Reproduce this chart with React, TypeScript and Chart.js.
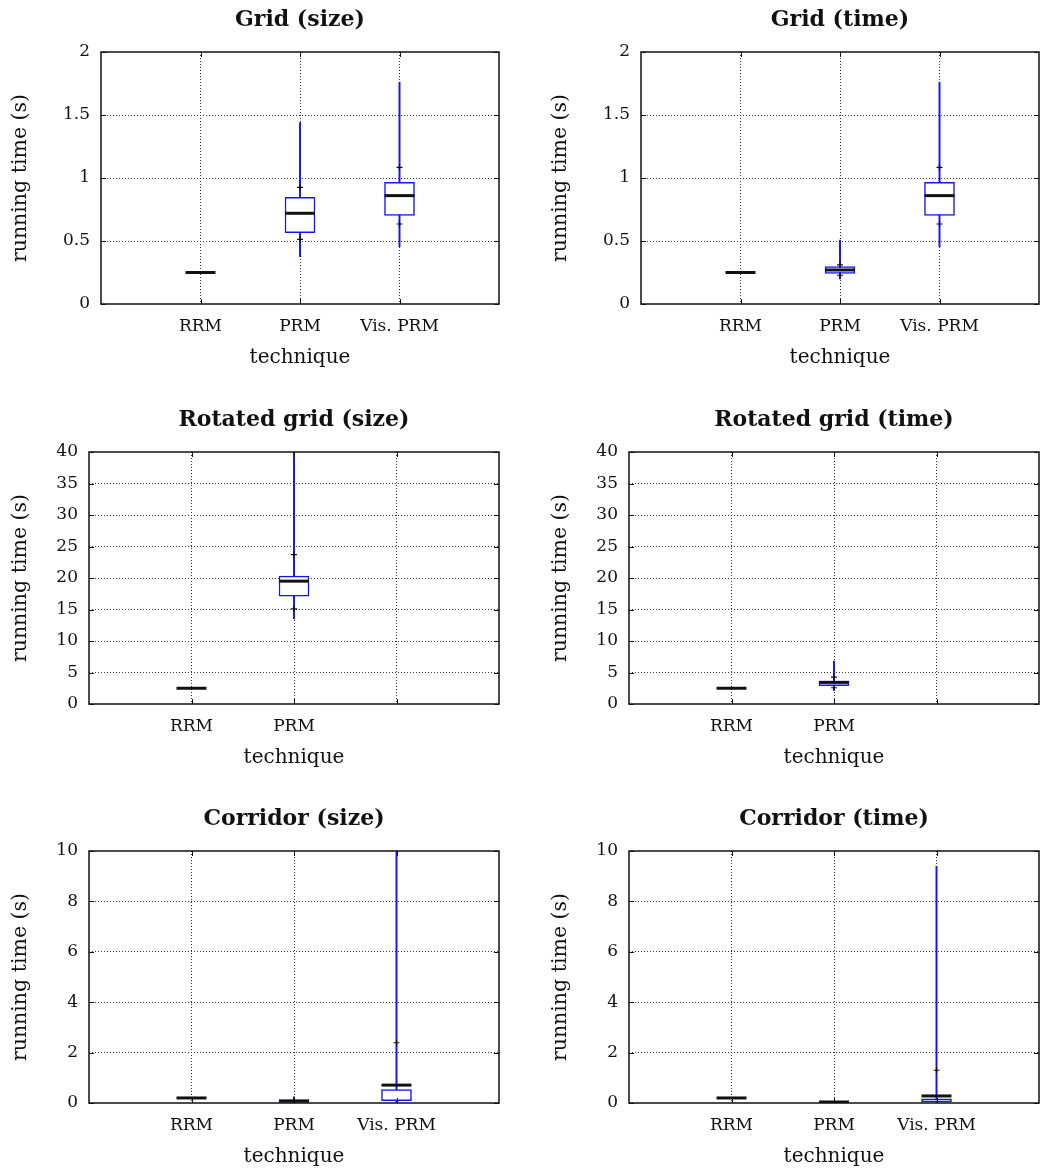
import React, { useEffect, useRef } from "react";
import { Chart, registerables } from "chart.js";

Chart.register(...registerables);

const FONT_FAMILY = "'DejaVu Serif', 'Liberation Serif', serif";
const BLUE = "rgb(20,20,255)";
const INK = "#111111";
const GRID_INK = "#333333";

// ---------- categories & tick labels ----------
const techniquesThree = ["RRM", "PRM", "Vis. PRM"];
const techniquesTwo = ["RRM", "PRM", ""];
const xTickValues = [0, 1, 2, 3, 4];
const gridYTicks = [0, 0.5, 1, 1.5, 2];
const rotatedYTicks = [0, 5, 10, 15, 20, 25, 30, 35, 40];
const corridorYTicks = [0, 2, 4, 6, 8, 10];

// ---------- Grid (size) ----------
const gridSizeWhiskerLow = [null, 0.376, 0.455];
const gridSizeWhiskerHigh = [null, 1.44, 1.76];
const gridSizeQ1 = [null, 0.566, 0.704];
const gridSizeQ3 = [null, 0.847, 0.966];
const gridSizeMedian = [0.25, 0.72, 0.86];
const gridSizeMarkLow = [null, 0.513, 0.635];
const gridSizeMarkHigh = [null, 0.926, 1.085];

// ---------- Grid (time) ----------
const gridTimeWhiskerLow = [null, 0.2, 0.455];
const gridTimeWhiskerHigh = [null, 0.508, 1.76];
const gridTimeQ1 = [null, 0.243, 0.704];
const gridTimeQ3 = [null, 0.296, 0.966];
const gridTimeMedian = [0.25, 0.27, 0.86];
const gridTimeMarkLow = [null, 0.228, 0.635];
const gridTimeMarkHigh = [null, 0.31, 1.085];

// ---------- Rotated grid (size) ----------
const rotSizeWhiskerLow = [null, 13.5, null];
const rotSizeWhiskerHigh = [null, 40, null];
const rotSizeQ1 = [null, 17.1, null];
const rotSizeQ3 = [null, 20.3, null];
const rotSizeMedian = [2.5, 19.5, null];
const rotSizeMarkLow = [null, 15.1, null];
const rotSizeMarkHigh = [null, 23.7, null];

// ---------- Rotated grid (time) ----------
const rotTimeWhiskerLow = [null, 2.15, null];
const rotTimeWhiskerHigh = [null, 6.8, null];
const rotTimeQ1 = [null, 2.9, null];
const rotTimeQ3 = [null, 3.64, null];
const rotTimeMedian = [2.5, 3.43, null];
const rotTimeMarkLow = [null, 2.58, null];
const rotTimeMarkHigh = [null, 4.27, null];

// ---------- Corridor (size) ----------
const corSizeWhiskerLow = [null, 0.02, 0.02];
const corSizeWhiskerHigh = [null, 0.24, 10];
const corSizeQ1 = [null, 0.04, 0.095];
const corSizeQ3 = [null, 0.13, 0.53];
const corSizeMedian = [0.2, 0.08, 0.71];
const corSizeMarkLow = [null, null, null];
const corSizeMarkHigh = [null, 0.1, 2.39];

// ---------- Corridor (time) ----------
const corTimeWhiskerLow = [null, null, 0.03];
const corTimeWhiskerHigh = [null, null, 9.39];
const corTimeQ1 = [null, null, 0.05];
const corTimeQ3 = [null, null, 0.17];
const corTimeMedian = [0.2, 0.04, 0.28];
const corTimeMarkLow = [null, null, null];
const corTimeMarkHigh = [null, null, 1.3];

type Num = number | null;
type PanelData = {
  title: string;
  labels: string[];
  yTicks: number[];
  wLo: Num[];
  wHi: Num[];
  q1: Num[];
  q3: Num[];
  med: Num[];
  mLo: Num[];
  mHi: Num[];
};
type PanelLayout = {
  left: number;
  top: number;
  width: number;
  height: number;
  padLeft: number;
  padRight: number;
  yWidth: number;
};

const panels: { data: PanelData; layout: PanelLayout }[] = [
  {
    data: { title: "Grid (size)", labels: techniquesThree, yTicks: gridYTicks, wLo: gridSizeWhiskerLow, wHi: gridSizeWhiskerHigh, q1: gridSizeQ1, q3: gridSizeQ3, med: gridSizeMedian, mLo: gridSizeMarkLow, mHi: gridSizeMarkHigh },
    layout: { left: 0, top: 0, width: 520, height: 370, padLeft: 0, padRight: 21, yWidth: 101 },
  },
  {
    data: { title: "Grid (time)", labels: techniquesThree, yTicks: gridYTicks, wLo: gridTimeWhiskerLow, wHi: gridTimeWhiskerHigh, q1: gridTimeQ1, q3: gridTimeQ3, med: gridTimeMedian, mLo: gridTimeMarkLow, mHi: gridTimeMarkHigh },
    layout: { left: 520, top: 0, width: 521, height: 370, padLeft: 20, padRight: 2, yWidth: 101 },
  },
  {
    data: { title: "Rotated grid (size)", labels: techniquesTwo, yTicks: rotatedYTicks, wLo: rotSizeWhiskerLow, wHi: rotSizeWhiskerHigh, q1: rotSizeQ1, q3: rotSizeQ3, med: rotSizeMedian, mLo: rotSizeMarkLow, mHi: rotSizeMarkHigh },
    layout: { left: 0, top: 400, width: 520, height: 370, padLeft: 0, padRight: 21, yWidth: 89 },
  },
  {
    data: { title: "Rotated grid (time)", labels: techniquesTwo, yTicks: rotatedYTicks, wLo: rotTimeWhiskerLow, wHi: rotTimeWhiskerHigh, q1: rotTimeQ1, q3: rotTimeQ3, med: rotTimeMedian, mLo: rotTimeMarkLow, mHi: rotTimeMarkHigh },
    layout: { left: 520, top: 400, width: 521, height: 370, padLeft: 20, padRight: 2, yWidth: 89 },
  },
  {
    data: { title: "Corridor (size)", labels: techniquesThree, yTicks: corridorYTicks, wLo: corSizeWhiskerLow, wHi: corSizeWhiskerHigh, q1: corSizeQ1, q3: corSizeQ3, med: corSizeMedian, mLo: corSizeMarkLow, mHi: corSizeMarkHigh },
    layout: { left: 0, top: 799, width: 520, height: 370, padLeft: 0, padRight: 21, yWidth: 89 },
  },
  {
    data: { title: "Corridor (time)", labels: techniquesThree, yTicks: corridorYTicks, wLo: corTimeWhiskerLow, wHi: corTimeWhiskerHigh, q1: corTimeQ1, q3: corTimeQ3, med: corTimeMedian, mLo: corTimeMarkLow, mHi: corTimeMarkHigh },
    layout: { left: 520, top: 799, width: 521, height: 370, padLeft: 20, padRight: 2, yWidth: 89 },
  },
];

const toPoints = (arr: Num[]) =>
  arr
    .map((v, i) => (v == null ? null : { x: i + 1, y: v }))
    .filter((p) => p !== null);

const toRanges = (lo: Num[], hi: Num[]) =>
  lo
    .map((v, i) => (v == null || hi[i] == null ? null : { x: i + 1, y: [v, hi[i]] }))
    .filter((p) => p !== null);

const framePlugin = {
  id: "frame",
  afterDatasetsDraw(chart: any) {
    const { ctx, chartArea: a, scales } = chart;
    ctx.save();
    ctx.strokeStyle = INK;
    ctx.lineWidth = 1.5;
    ctx.strokeRect(a.left, a.top, a.right - a.left, a.bottom - a.top);
    ctx.lineWidth = 1;
    const tl = 5;
    ctx.beginPath();
    scales.y.ticks.forEach((t: any) => {
      const y = Math.round(scales.y.getPixelForValue(t.value)) + 0.5;
      ctx.moveTo(a.left, y);
      ctx.lineTo(a.left + tl, y);
      ctx.moveTo(a.right, y);
      ctx.lineTo(a.right - tl, y);
    });
    scales.x.ticks.forEach((t: any) => {
      if (t.value <= scales.x.min || t.value >= scales.x.max) return;
      const x = Math.round(scales.x.getPixelForValue(t.value)) + 0.5;
      ctx.moveTo(x, a.bottom);
      ctx.lineTo(x, a.bottom - tl);
      ctx.moveTo(x, a.top);
      ctx.lineTo(x, a.top + tl);
    });
    ctx.stroke();
    ctx.restore();
  },
};

function Panel({ data, layout }: { data: PanelData; layout: PanelLayout }) {
  const ref = useRef<HTMLCanvasElement | null>(null);

  useEffect(() => {
    if (!ref.current) return;
    const yMin = data.yTicks[0];
    const yMax = data.yTicks[data.yTicks.length - 1];
    const chart = new Chart(ref.current, {
      type: "bar",
      data: {
        datasets: [
          {
            type: "bar",
            label: "whisker",
            data: toRanges(data.wLo, data.wHi) as any,
            backgroundColor: BLUE,
            borderWidth: 0,
            barThickness: 1.3,
            grouped: false,
            order: 4,
            clip: 0,
          } as any,
          {
            type: "bar",
            label: "box",
            data: toRanges(data.q1, data.q3) as any,
            backgroundColor: "#ffffff",
            borderColor: BLUE,
            borderWidth: 1.5,
            borderSkipped: false,
            barThickness: 30,
            grouped: false,
            order: 3,
            clip: 0,
          } as any,
          {
            type: "scatter",
            label: "median",
            data: toPoints(data.med) as any,
            pointStyle: "line",
            pointRadius: 15,
            pointBorderWidth: 3,
            pointBorderColor: INK,
            pointBackgroundColor: INK,
            borderColor: INK,
            order: 2,
          } as any,
          {
            type: "scatter",
            label: "marks",
            data: [...toPoints(data.mLo), ...toPoints(data.mHi)] as any,
            pointStyle: "cross",
            pointRadius: 3,
            pointBorderWidth: 1.2,
            pointBorderColor: INK,
            pointBackgroundColor: INK,
            borderColor: INK,
            order: 1,
          } as any,
        ],
      },
      options: {
        animation: false,
        responsive: false,
        devicePixelRatio: 1,
        events: [],
        layout: {
          autoPadding: false,
          padding: { left: layout.padLeft, right: layout.padRight, top: 0, bottom: 0 },
        },
        plugins: {
          legend: { display: false },
          tooltip: { enabled: false },
          title: {
            display: true,
            text: data.title,
            fullSize: false,
            color: INK,
            font: { family: FONT_FAMILY, size: 22, weight: "bold", lineHeight: 1.2 },
            padding: { top: 7, bottom: 18.6 },
          },
        },
        scales: {
          x: {
            type: "linear",
            min: 0,
            max: 4,
            offset: false,
            afterBuildTicks: (s: any) => {
              s.ticks = xTickValues.map((v) => ({ value: v }));
            },
            afterFit: (s: any) => {
              s.height = 66;
              s.paddingLeft = 0;
              s.paddingRight = 0;
            },
            ticks: {
              autoSkip: false,
              maxRotation: 0,
              minRotation: 0,
              padding: 12,
              color: INK,
              font: { family: FONT_FAMILY, size: 17 },
              callback: (v: any) => data.labels[Number(v) - 1] ?? "",
            },
            grid: {
              color: (ctx: any) =>
                ctx.tick && (ctx.tick.value <= 0 || ctx.tick.value >= 4) ? "rgba(0,0,0,0)" : GRID_INK,
              lineWidth: 1,
              drawTicks: false,
              offset: false,
            },
            border: { display: false, dash: [1, 2] },
            title: {
              display: true,
              text: "technique",
              color: INK,
              font: { family: FONT_FAMILY, size: 20, lineHeight: 1.2 },
              padding: { top: 0, bottom: 0 },
            },
          },
          y: {
            type: "linear",
            min: yMin,
            max: yMax,
            afterBuildTicks: (s: any) => {
              s.ticks = data.yTicks.map((v) => ({ value: v }));
            },
            afterFit: (s: any) => {
              s.width = layout.yWidth;
            },
            ticks: {
              padding: 11,
              color: INK,
              font: { family: FONT_FAMILY, size: 17 },
              callback: (v: any) => String(v),
            },
            grid: {
              color: (ctx: any) =>
                ctx.tick && (ctx.tick.value <= yMin || ctx.tick.value >= yMax) ? "rgba(0,0,0,0)" : GRID_INK,
              lineWidth: 1,
              drawTicks: false,
            },
            border: { display: false, dash: [1, 2] },
            title: {
              display: true,
              text: "running time (s)",
              color: INK,
              font: { family: FONT_FAMILY, size: 20.5, lineHeight: 1.2 },
              padding: { top: 8, bottom: 0 },
            },
          },
        },
      } as any,
      plugins: [framePlugin as any],
    });
    return () => chart.destroy();
  }, [data, layout]);

  return (
    <canvas
      ref={ref}
      width={layout.width}
      height={layout.height}
      style={{
        position: "absolute",
        left: layout.left,
        top: layout.top,
        width: layout.width,
        height: layout.height,
        display: "block",
      }}
    />
  );
}

export default function App() {
  return (
    <div
      style={{
        position: "absolute",
        left: 0,
        top: 0,
        width: 1041,
        height: 1170,
        background: "#ffffff",
        overflow: "hidden",
      }}
    >
      {panels.map((p, i) => (
        <Panel key={i} data={p.data} layout={p.layout} />
      ))}
    </div>
  );
}
